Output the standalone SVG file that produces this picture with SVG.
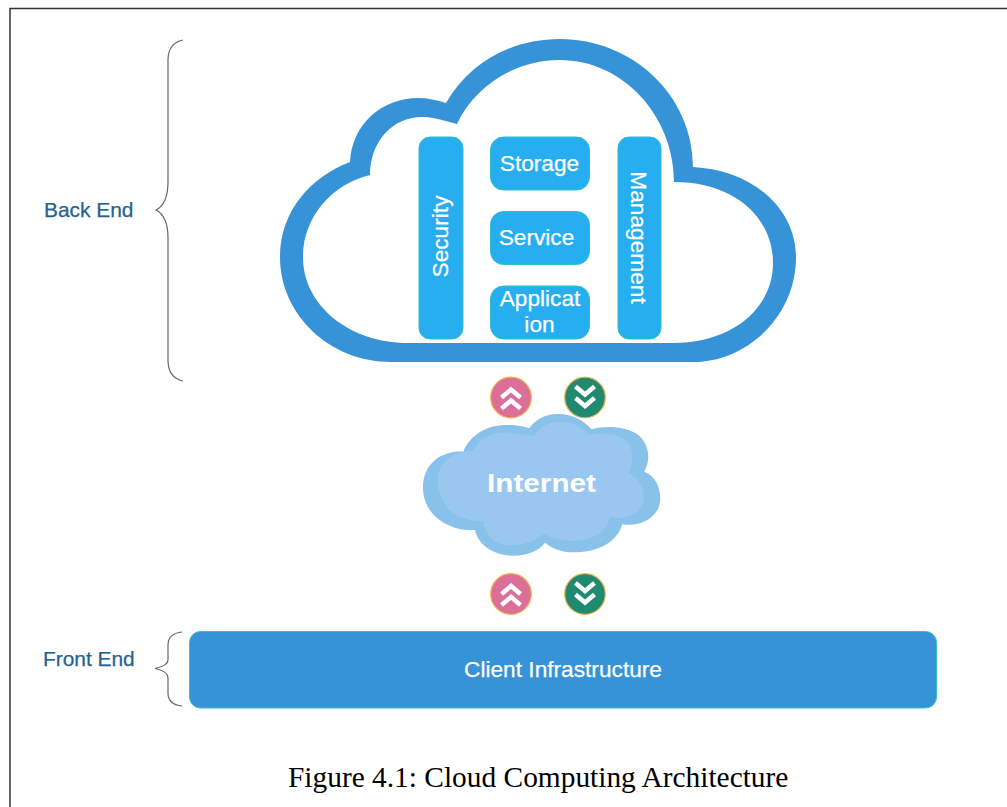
<svg xmlns="http://www.w3.org/2000/svg" width="1007" height="807" viewBox="0 0 1007 807">
<style>
.box{fill:#27AEF0;stroke:#2FBFC8;stroke-width:1}
.t{font-family:"Liberation Sans",Arial,sans-serif;fill:#fff;font-size:22.700px;stroke:#fff;stroke-width:.25}
.side{font-family:"Liberation Sans",Arial,sans-serif;fill:#1F6391;font-size:20.900px;stroke:#1F6391;stroke-width:.25}
.brace{fill:none;stroke:#666;stroke-width:1.200}
.chev{fill:none;stroke:#fff;stroke-width:4.500}
.up{fill:#DB6F98;stroke:#F0B24A;stroke-width:1.200}
.down{fill:#1F8A6F;stroke:#F0B24A;stroke-width:1.200}
</style>
<rect width="1007" height="807" fill="#fff"/>
<path d="M10 807V8.500H1007" fill="none" stroke="#333" stroke-width="1.500"/>
<g id="cloud">
<path fill="#3793D8" fill-rule="evenodd" d="M446 103C470 62 512 39 560 39C632 39 693 95 693 167C752 170 796 208 796 257C796 318 745 362 694 362H391C330 362 280 315 280 257C280 212 310 177 350 162C352 124 382 98 418 98C428 98 437 100 446 103ZM457 124C436 118 430 117 422 117C392 117 370 142 370 175C332 184 303 217 303 257C303 306 350 343 408 343H673C730 343 773 310 773 263C773 218 735 182 674 182C674 115 622 60 560 60C515 60 475 86 457 124Z"/>
</g>
<g id="security"><rect class="box" x="419" y="137" width="44" height="202" rx="11"/><text class="t" text-anchor="middle" transform="translate(448 236.500) rotate(-90)">Security</text></g>
<g id="storage"><rect class="box" x="490.500" y="137" width="99" height="53" rx="13"/><text class="t" text-anchor="middle" x="539.500" y="171">Storage</text></g>
<g id="service"><rect class="box" x="490.500" y="211.500" width="99" height="53" rx="13"/><text class="t" text-anchor="middle" x="536.500" y="244.500">Service</text></g>
<g id="application"><rect class="box" x="490.500" y="286" width="99" height="53" rx="13"/><text class="t" text-anchor="middle" x="540" y="306">Applicat</text><text class="t" text-anchor="middle" x="539.500" y="332">ion</text></g>
<g id="management"><rect class="box" x="618" y="137" width="43" height="202" rx="11"/><text class="t" text-anchor="middle" transform="translate(631 237.500) rotate(90)">Management</text></g>
<g id="internet">
<g transform="translate(410 370) scale(.3333)">
<path fill="#88C2EA" d="M160 245C180 195 230 165 290 165C320 165 345 170 358 175C375 150 405 132 445 132C490 132 525 155 545 178C590 165 650 170 685 195C715 220 725 265 703 305C745 320 760 375 745 415C725 455 680 470 637 463C620 520 560 548 490 547C455 547 425 535 405 518C385 545 345 558 305 557C250 555 205 525 195 480C130 485 70 450 48 400C30 355 38 300 75 270C100 250 135 243 160 245Z"/>
<path fill="#9AC7F0" d="M190 243C205 205 250 183 300 188C330 190 350 195 372 198C390 170 415 155 450 155C490 155 520 175 537 195C580 185 635 190 655 220C675 250 668 285 655 310C690 325 710 365 698 400C680 440 640 450 600 440C590 490 540 515 480 512C450 510 420 505 403 490C380 515 330 530 285 525C250 520 225 495 220 453C160 455 115 430 95 385C75 340 80 295 110 270C130 252 160 243 190 243Z"/>
</g>
<text x="487" y="492" font-family="Liberation Sans,Arial,sans-serif" font-weight="bold" font-size="26" fill="#fff" textLength="109" lengthAdjust="spacingAndGlyphs">Internet</text>
</g>
<g id="up1"><circle class="up" cx="511" cy="397.500" r="20.300"/><path class="chev" d="M501.500 397.500L511 389.500L520.500 397.500M501.500 408.500L511 400.500L520.500 408.500"/></g>
<g id="down1"><circle class="down" cx="585" cy="397.500" r="20.300"/><path class="chev" d="M575.500 386.500L585 394.500L594.500 386.500M575.500 398L585 406L594.500 398"/></g>
<g id="up2"><circle class="up" cx="511" cy="594" r="20.300"/><path class="chev" d="M501.500 594L511 586L520.500 594M501.500 605L511 597L520.500 605"/></g>
<g id="down2"><circle class="down" cx="585" cy="594" r="20.300"/><path class="chev" d="M575.500 583L585 591L594.500 583M575.500 594.500L585 602.500L594.500 594.500"/></g>
<g id="client"><rect x="189.500" y="631.500" width="747" height="76.500" rx="11" fill="#3793D8" stroke="#3CC0C8" stroke-width="1"/><text class="t" text-anchor="middle" x="563" y="677">Client Infrastructure</text></g>
<g id="connectors">
<path class="brace" d="M183 40C174 42 168 48 168 60V182C168 196 164 206 156 210C164 214 168 224 168 238V360C168 372 174 379 183 381"/>
<path class="brace" d="M182 632C173 633 168 637 168 645V660C168 664 162 667 155 668.500C162 670 168 673 168 678V693C168 701 173 705 182 706"/>
</g>
<text id="back-end" class="side" x="44" y="217">Back End</text>
<text id="front-end" class="side" x="43" y="666">Front End</text>
<text id="caption" x="288" y="787" font-family="Liberation Serif,Times New Roman,serif" font-size="29.400" fill="#000">Figure 4.1: Cloud Computing Architecture</text>
</svg>
